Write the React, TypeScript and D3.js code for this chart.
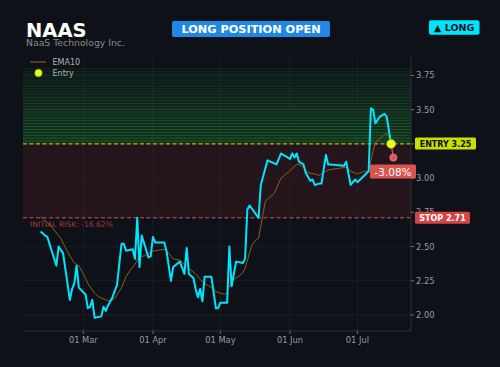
import React from 'react';
import * as d3 from 'd3';

const ticker = 'NAAS';
const companyName = 'NaaS Technology Inc.';
const banner = 'LONG POSITION OPEN';
const sideLabel = '▲ LONG';

const priceDates = [
  '2024-02-11','2024-02-13','2024-02-14','2024-02-18','2024-02-19','2024-02-21','2024-02-24','2024-02-25','2024-02-26','2024-02-27','2024-02-28',
  '2024-03-02','2024-03-03','2024-03-04','2024-03-05','2024-03-06','2024-03-09','2024-03-10','2024-03-11','2024-03-12','2024-03-14','2024-03-16',
  '2024-03-18','2024-03-19','2024-03-20','2024-03-23','2024-03-24','2024-03-25','2024-03-26','2024-03-27','2024-03-30','2024-03-31',
  '2024-04-01','2024-04-02','2024-04-06','2024-04-07','2024-04-09','2024-04-10','2024-04-13','2024-04-15','2024-04-16','2024-04-17',
  '2024-04-19','2024-04-20','2024-04-21','2024-04-22','2024-04-23','2024-04-24','2024-04-27','2024-04-29','2024-04-30',
  '2024-05-01','2024-05-04','2024-05-05','2024-05-06','2024-05-08','2024-05-11','2024-05-12','2024-05-13','2024-05-14','2024-05-18',
  '2024-05-19','2024-05-22','2024-05-26','2024-05-28','2024-05-29',
  '2024-06-01','2024-06-02','2024-06-03','2024-06-04','2024-06-05','2024-06-07','2024-06-08','2024-06-09','2024-06-10','2024-06-11',
  '2024-06-12','2024-06-14','2024-06-15','2024-06-17','2024-06-18','2024-06-19','2024-06-25','2024-06-26','2024-06-28','2024-06-30',
  '2024-07-01','2024-07-06','2024-07-07','2024-07-08','2024-07-09','2024-07-11','2024-07-13','2024-07-14','2024-07-16',
];
const priceValues = [
  2.61, 2.58, 2.57, 2.36, 2.50, 2.45, 2.11, 2.19, 2.23, 2.36, 2.20,
  2.15, 2.05, 2.06, 2.11, 1.98, 1.99, 2.06, 2.03, 2.07, 2.13, 2.22,
  2.52, 2.52, 2.47, 2.48, 2.41, 2.71, 2.35, 2.58, 2.42, 2.43,
  2.57, 2.53, 2.53, 2.47, 2.25, 2.35, 2.39, 2.30, 2.49, 2.30,
  2.27, 2.19, 2.13, 2.19, 2.10, 2.28, 2.28, 2.05, 2.05,
  2.09, 2.09, 2.50, 2.21, 2.39, 2.38, 2.41, 2.77, 2.80, 2.71,
  2.95, 3.13, 3.10, 3.18, 3.17,
  3.14, 3.18, 3.15, 3.18, 3.12, 3.10, 3.04, 3.01, 2.98, 2.99,
  2.95, 2.96, 2.96, 3.17, 3.10, 3.10, 3.09, 3.12, 2.95, 2.99,
  2.97, 3.05, 3.51, 3.50, 3.40, 3.45, 3.47, 3.45, 3.25,
];

const emaDates = [
  '2024-02-11','2024-02-15','2024-02-20','2024-02-23','2024-02-26','2024-02-28','2024-03-01','2024-03-03','2024-03-06','2024-03-08',
  '2024-03-11','2024-03-13','2024-03-15','2024-03-18','2024-03-20','2024-03-22','2024-03-24','2024-03-25','2024-03-26','2024-03-28',
  '2024-03-31','2024-04-02','2024-04-06','2024-04-07','2024-04-09','2024-04-10','2024-04-13','2024-04-15','2024-04-17','2024-04-20',
  '2024-04-22','2024-04-24','2024-04-27','2024-04-29','2024-05-01','2024-05-03','2024-05-04','2024-05-06','2024-05-09','2024-05-11',
  '2024-05-12','2024-05-15','2024-05-17','2024-05-18','2024-05-21','2024-05-25','2024-05-28','2024-05-31','2024-06-04','2024-06-05',
  '2024-06-07','2024-06-09','2024-06-12','2024-06-14','2024-06-18','2024-06-22','2024-06-26','2024-06-28','2024-07-01','2024-07-04',
  '2024-07-06','2024-07-08','2024-07-09','2024-07-14','2024-07-15',
];
const emaValues = [
  2.72, 2.66, 2.56, 2.46, 2.38, 2.36, 2.30, 2.23, 2.16, 2.13,
  2.11, 2.10, 2.12, 2.20, 2.28, 2.33, 2.37, 2.40, 2.43, 2.43,
  2.46, 2.47, 2.48, 2.47, 2.43, 2.41, 2.40, 2.37, 2.34, 2.30,
  2.26, 2.23, 2.20, 2.17, 2.16, 2.15, 2.17, 2.25, 2.28, 2.31,
  2.34, 2.51, 2.55, 2.56, 2.83, 2.89, 3.00, 3.04, 3.10, 3.10,
  3.08, 3.04, 3.03, 3.02, 3.06, 3.07, 3.08, 3.05, 3.03, 3.05,
  3.05, 3.20, 3.26, 3.33, 3.30,
];

const entryPrice = 3.25;
const stopPrice = 2.71;
const targetTop = 3.80;
const entryDate = '2024-07-16';
const currentDate = '2024-07-17';
const currentPrice = 3.15;
const pnlLabel = '-3.08%';
const riskLabel = 'INITIAL RISK: -16.62%';
const yTicks = [2.0, 2.25, 2.5, 2.75, 3.0, 3.25, 3.5, 3.75];
const yDomain = [1.883, 3.885];

const W = 500, H = 367;
const M = { left: 23, right: 411, top: 57, bottom: 331 };
const FONT = 'DejaVu Sans, sans-serif';
const BG = '#0e1118';

const parse = d3.timeParse('%Y-%m-%d');

export default function App() {
  const pDates = priceDates.map((d) => parse(d) as Date);
  const eDates = emaDates.map((d) => parse(d) as Date);
  const allDates = [...pDates, parse(currentDate) as Date];
  const [d0, d1] = d3.extent(allDates) as [Date, Date];
  const span = d1.getTime() - d0.getTime();
  const x = d3
    .scaleTime()
    .domain([new Date(d0.getTime() - span * 0.05), new Date(d1.getTime() + span * 0.05)])
    .range([M.left, M.right]);
  const y = d3.scaleLinear().domain(yDomain).range([M.bottom, M.top]);

  const priceLine = d3
    .line<number>()
    .x((_, i) => x(pDates[i]))
    .y((v) => y(v))(priceValues) as string;
  const emaLine = d3
    .line<number>()
    .x((_, i) => x(eDates[i]))
    .y((v) => y(v))(emaValues) as string;

  const monthTicks = x.ticks(d3.timeMonth.every(1) as any);
  const fmt = d3.timeFormat('%d %b');

  const nBands = 26;
  const bands = d3.range(nBands).map((i) => {
    const lo = entryPrice + ((targetTop - entryPrice) * i) / nBands;
    const hi = entryPrice + ((targetTop - entryPrice) * (i + 1)) / nBands;
    return { lo, hi, a: 1 - i / nBands };
  });

  const ex = x(parse(entryDate) as Date);
  const ey = y(entryPrice);
  const cx = x(parse(currentDate) as Date);
  const cy = y(currentPrice);

  return (
    <svg
      width={W}
      height={H}
      style={{ position: 'absolute', left: 0, top: 0, background: BG, fontFamily: FONT }}
    >
      <rect x={0} y={0} width={W} height={H} fill={BG} />
      {/* grid */}
      {monthTicks.map((t, i) => (
        <line key={'gx' + i} x1={x(t)} x2={x(t)} y1={M.top} y2={M.bottom} stroke="#1c212a" strokeWidth={0.8} />
      ))}
      {yTicks.map((t, i) => (
        <line key={'gy' + i} x1={M.left} x2={M.right} y1={y(t)} y2={y(t)} stroke="#1c212a" strokeWidth={0.8} />
      ))}
      {/* risk zone */}
      <rect
        x={M.left}
        width={M.right - M.left}
        y={y(entryPrice)}
        height={y(stopPrice) - y(entryPrice)}
        fill="#3a1a22"
        opacity={0.5}
      />
      {/* reward zone bands */}
      {bands.map((b, i) => (
        <g key={'b' + i}>
          <rect
            x={M.left}
            width={M.right - M.left}
            y={y(b.hi)}
            height={y(b.lo) - y(b.hi)}
            fill="#1f8a2e"
            opacity={0.04 + b.a * 0.22}
          />
          <line
            x1={M.left}
            x2={M.right}
            y1={y(b.hi)}
            y2={y(b.hi)}
            stroke="#34b846"
            strokeWidth={0.8}
            opacity={0.1 + b.a * 0.35}
          />
        </g>
      ))}
      {/* entry & stop lines */}
      <line x1={M.left} x2={M.right} y1={ey} y2={ey} stroke="#d4e20a" strokeWidth={1} strokeDasharray="4,2.5" />
      <line x1={M.left} x2={M.right} y1={y(stopPrice)} y2={y(stopPrice)} stroke="#d9534f" strokeWidth={1} strokeDasharray="4,2.5" />
      <text x={30} y={y(stopPrice) + 9.5} fill="#a8383a" fontSize={7.6}>
        {riskLabel}
      </text>
      {/* EMA */}
      <path d={emaLine} fill="none" stroke="#86611a" strokeWidth={1} />
      {/* price */}
      <path d={priceLine} fill="none" stroke="#00e5ff" strokeWidth={2} strokeLinejoin="round" />
      {/* current */}
      <line x1={ex} y1={ey} x2={cx} y2={cy} stroke="#e05555" strokeWidth={1.2} />
      <circle cx={cx} cy={cy} r={3.6} fill="#e05555" stroke="#f2a0a0" strokeWidth={0.6} />
      <circle cx={ex} cy={ey} r={4.5} fill="#e5ff1a" stroke="#9aad00" strokeWidth={0.6} />
      {/* spines */}
      <line x1={M.right} x2={M.right} y1={M.top} y2={M.bottom} stroke="#2c313a" strokeWidth={1} />
      <line x1={M.left} x2={M.right} y1={M.bottom} y2={M.bottom} stroke="#2c313a" strokeWidth={1} />
      {/* y ticks */}
      {yTicks.map((t, i) => (
        <g key={'yt' + i}>
          <line x1={M.right} x2={M.right + 3} y1={y(t)} y2={y(t)} stroke="#888" strokeWidth={0.8} />
          <text x={M.right + 5} y={y(t) + 3} fill="#9a9a9a" fontSize={8.3}>
            {t.toFixed(2)}
          </text>
        </g>
      ))}
      {/* x ticks */}
      {monthTicks.map((t, i) => (
        <g key={'xt' + i}>
          <line x1={x(t)} x2={x(t)} y1={M.bottom} y2={M.bottom + 3} stroke="#888" strokeWidth={0.8} />
          <text x={x(t)} y={M.bottom + 12} fill="#9a9a9a" fontSize={8.3} textAnchor="middle">
            {fmt(t)}
          </text>
        </g>
      ))}
      {/* entry label */}
      <rect x={415} y={ey - 6.5} width={61} height={12} rx={1.5} fill="#c8e000" />
      <text x={445.5} y={ey + 3} fill="#111" fontSize={8} fontWeight="bold" textAnchor="middle">
        {'ENTRY ' + entryPrice.toFixed(2)}
      </text>
      {/* stop label */}
      <rect x={415} y={y(stopPrice) - 6} width={55} height={12} rx={1.5} fill="#d94343" />
      <text x={442.5} y={y(stopPrice) + 3} fill="#fff" fontSize={8} fontWeight="bold" textAnchor="middle">
        {'STOP ' + stopPrice.toFixed(2)}
      </text>
      {/* pnl label */}
      <rect x={370} y={164.5} width={46} height={14} rx={1.5} fill="#d9534f" />
      <text x={393} y={175.5} fill="#fff" fontSize={10.5} textAnchor="middle">
        {pnlLabel}
      </text>
      {/* legend */}
      <line x1={30} x2={46} y1={62} y2={62} stroke="#86611a" strokeWidth={1.2} />
      <text x={52.5} y={65} fill="#b0b0b0" fontSize={8}>EMA10</text>
      <circle cx={38.5} cy={73} r={3.7} fill="#e5ff1a" stroke="#9aad00" strokeWidth={0.5} />
      <text x={52.5} y={76} fill="#b0b0b0" fontSize={8}>Entry</text>
      {/* titles */}
      <text x={26} y={36.5} fill="#ffffff" fontSize={19.5} fontWeight="bold">{ticker}</text>
      <text x={26} y={46} fill="#8a8a8a" fontSize={9.3}>{companyName}</text>
      <rect x={172} y={21} width={158} height={16} rx={2} fill="#1f88e5" />
      <text x={251} y={33.3} fill="#fff" fontSize={11.3} fontWeight="bold" textAnchor="middle">{banner}</text>
      <rect x={429} y={20.3} width={50.5} height={14.5} rx={2} fill="#00e5ff" />
      <text x={454.2} y={31.3} fill="#0e1118" fontSize={9.5} fontWeight="bold" textAnchor="middle">{sideLabel}</text>
    </svg>
  );
}
